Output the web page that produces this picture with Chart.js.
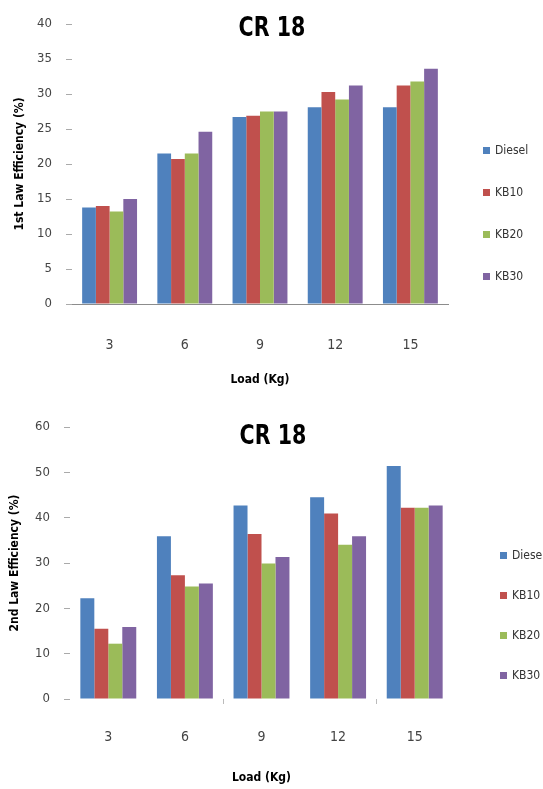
<!DOCTYPE html>
<html>
<head>
<meta charset="utf-8">
<script src="https://cdn.jsdelivr.net/npm/chart.js@4.4.1/dist/chart.umd.min.js"></script>
<style>
  html, body { margin: 0; padding: 0; background: #fff; overflow: hidden; }
  body { width: 543px; height: 789px; position: relative; font-family: 'Liberation Sans Narrow', 'DejaVu Sans Condensed', sans-serif; }
  .panel { position: absolute; left: 0; width: 543px; }
  .panel canvas { position: absolute; left: 0; top: 0; }
  .title { position: absolute; font-family: 'DejaVu Sans Condensed', 'Liberation Sans Narrow', sans-serif; font-stretch: condensed; font-weight: bold; font-size: 26px; color: #000; transform: translate(-50%, -50%) scaleX(0.88); white-space: nowrap; }
  .legend { position: absolute; font-size: 12px; color: #333; white-space: nowrap; }
  .legend div { position: absolute; left: 0; height: 14px; line-height: 14px; transform: translateY(-50%); }
  .legend span { display: inline-block; width: 7px; height: 7px; margin-right: 5px; vertical-align: 0; }
</style>
</head>
<body>
<div class="panel" id="panelTop" style="top:0;height:395px;">
  <canvas id="chartFirst" width="543" height="395"></canvas>
  <div class="title" style="left:272px;top:27px;">CR 18</div>
  <div class="legend" id="legendFirst" style="left:483px;top:150px;"></div>
</div>
<div class="panel" id="panelBottom" style="top:395px;height:394px;">
  <canvas id="chartSecond" width="543" height="394"></canvas>
  <div class="title" style="left:273px;top:40px;">CR 18</div>
  <div class="legend" id="legendSecond" style="left:500px;top:160px;"></div>
</div>
<script>
'use strict';

const loads = ['3', '6', '9', '12', '15'];
const fuels = ['Diesel', 'KB10', 'KB20', 'KB30'];
const fuelColors = ['#4f81bd', '#c0504d', '#9bbb59', '#8064a2'];

// 1st law efficiency (%)
const firstDiesel = [13.8, 21.5, 26.7, 28.1, 28.1];
const firstKB10 = [14.0, 20.7, 26.9, 30.3, 31.2];
const firstKB20 = [13.2, 21.5, 27.5, 29.2, 31.8];
const firstKB30 = [15.0, 24.6, 27.5, 31.2, 33.6];

// 2nd law efficiency (%)
const secondDiesel = [22.2, 35.9, 42.7, 44.5, 51.4];
const secondKB10 = [15.5, 27.3, 36.4, 40.9, 42.2];
const secondKB20 = [12.2, 24.8, 29.9, 34.0, 42.2];
const secondKB30 = [15.9, 25.5, 31.3, 35.9, 42.7];

const firstAxis = { max: 40, step: 5 };
const secondAxis = { max: 60, step: 10 };

const tickFont = { family: "'Liberation Sans Narrow', 'DejaVu Sans Condensed', sans-serif", size: 13 };
const titleFont = { family: "'Liberation Sans Narrow', 'DejaVu Sans Condensed', sans-serif", size: 12, weight: 'bold' };

const buildDatasets = function (series) {
  return series.map((data, i) => ({
    label: fuels[i],
    data,
    backgroundColor: fuelColors[i],
    borderWidth: 0,
    categoryPercentage: 0.73,
    barPercentage: 1.0,
  }));
};

const makeChart = function (id, series, axis, s) {
  const ctx = document.querySelector(id).getContext('2d');
  return new Chart(ctx, {
    type: 'bar',
    data: { labels: loads, datasets: buildDatasets(series) },
    options: {
      responsive: false,
      animation: false,
      layout: { padding: { top: s.top, right: s.right, left: 0, bottom: 0 } },
      plugins: { legend: { display: false }, tooltip: { enabled: false } },
      scales: {
        x: {
          afterFit: scale => (scale.height = s.xHeight),
          border: { display: s.xLine, color: '#8c8c8c' },
          grid: {
            drawOnChartArea: false,
            drawTicks: s.xTicks,
            tickLength: 5,
            color: c => (s.tickIdx.includes(c.index) ? '#bbbbbb' : 'rgba(0,0,0,0)'),
          },
          ticks: { font: { ...tickFont, size: 14 }, color: '#444', padding: s.xPad },
          title: {
            display: true,
            text: 'Load (Kg)',
            font: titleFont,
            color: '#000',
            padding: { top: 0, bottom: s.xTitlePad },
          },
        },
        y: {
          min: 0,
          max: axis.max,
          afterFit: scale => (scale.width = s.left),
          border: { display: false },
          grid: { drawOnChartArea: false, tickLength: 6, color: '#aaaaaa' },
          ticks: { stepSize: axis.step, font: tickFont, color: '#444', padding: 14 },
          title: {
            display: true,
            text: s.yTitle,
            font: titleFont,
            color: '#000',
            padding: { top: s.yTitlePad, bottom: 0 },
          },
        },
      },
    },
  });
};

const renderLegend = function (chart, el, gap) {
  chart.data.datasets.forEach((ds, i) => {
    const row = document.createElement('div');
    row.style.top = `${i * gap}px`;
    row.innerHTML = `<span style="background:${ds.backgroundColor}"></span>${ds.label}`;
    el.appendChild(row);
  });
};

const chartFirst = makeChart(
  '#chartFirst',
  [firstDiesel, firstKB10, firstKB20, firstKB30],
  firstAxis,
  {
    top: 24, right: 95, left: 72, xHeight: 91, xPad: 33, xTitlePad: 8,
    xLine: true, xTicks: false, tickIdx: [],
    yTitle: '1st Law Efficiency (%)', yTitlePad: 13,
  }
);

const chartSecond = makeChart(
  '#chartSecond',
  [secondDiesel, secondKB10, secondKB20, secondKB30],
  secondAxis,
  {
    top: 32, right: 90, left: 70, xHeight: 90, xPad: 25, xTitlePad: 4,
    xLine: false, xTicks: true, tickIdx: [2, 4, 5],
    yTitle: '2nd Law Efficiency (%)', yTitlePad: 8,
  }
);

renderLegend(chartFirst, document.querySelector('#legendFirst'), 42);
renderLegend(chartSecond, document.querySelector('#legendSecond'), 40);
</script>
</body>
</html>
